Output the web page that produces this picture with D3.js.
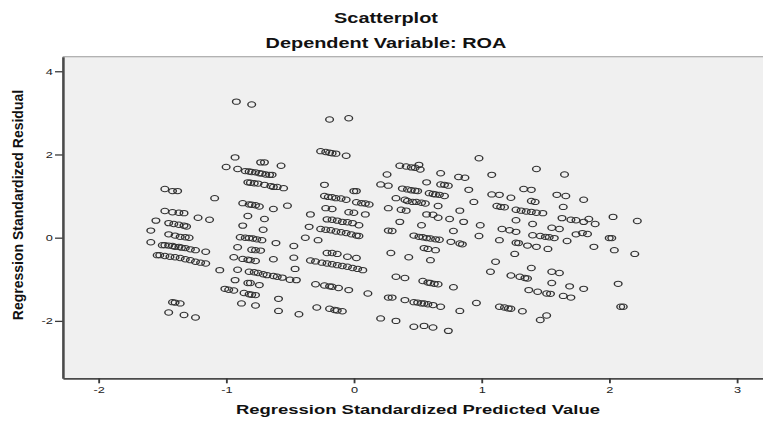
<!DOCTYPE html>
<html>
<head>
<meta charset="utf-8">
<script src="https://cdn.jsdelivr.net/npm/d3@7"></script>
<style>
  body { margin: 0; background: #fff; }
  text { font-family: "Liberation Sans", Arial, sans-serif; }
</style>
</head>
<body>
<svg id="chart"></svg>
<script>
// standardized predicted value / standardized residual, grouped by predicted band
var bandA = [
  [-1.48,1.17],[-1.42,1.12],[-1.38,1.12],[-1.09,0.95],
  [-1.48,0.64],[-1.42,0.61],[-1.37,0.60],[-1.33,0.59],
  [-1.22,0.48],[-1.13,0.43],[-1.55,0.41],
  [-1.45,0.35],[-1.41,0.33],[-1.37,0.31],[-1.33,0.29],[-1.31,0.27],
  [-1.59,0.17],
  [-1.45,0.08],[-1.40,0.05],[-1.36,0.02],[-1.32,0.01],[-1.29,0.00],
  [-1.59,-0.11],
  [-1.50,-0.18],[-1.48,-0.18],[-1.45,-0.19],[-1.42,-0.20],[-1.40,-0.22],[-1.37,-0.22],
  [-1.35,-0.24],[-1.32,-0.25],[-1.28,-0.28],[-1.24,-0.30],[-1.16,-0.34],
  [-1.54,-0.42],[-1.52,-0.42],[-1.48,-0.44],[-1.44,-0.46],[-1.40,-0.47],[-1.36,-0.49],
  [-1.32,-0.52],[-1.28,-0.54],[-1.24,-0.58],[-1.20,-0.60],[-1.16,-0.62],
  [-1.05,-0.78],
  [-1.42,-1.55],[-1.40,-1.56],[-1.36,-1.58],
  [-1.45,-1.80],[-1.33,-1.86],[-1.24,-1.92]
];
var bandB = [
  [-0.92,3.27],[-0.80,3.20],
  [-0.93,1.93],[-1.00,1.70],[-0.91,1.65],[-0.73,1.81],[-0.70,1.81],[-0.57,1.73],
  [-0.85,1.60],[-0.82,1.59],[-0.80,1.58],[-0.77,1.57],[-0.74,1.55],[-0.72,1.54],[-0.69,1.52],[-0.66,1.51],[-0.64,1.51],
  [-0.83,1.33],[-0.81,1.32],[-0.78,1.31],[-0.75,1.30],[-0.70,1.27],[-0.65,1.24],[-0.63,1.22],[-0.60,1.22],[-0.55,1.19],
  [-0.87,0.83],[-0.82,0.80],[-0.80,0.79],[-0.77,0.78],[-0.74,0.75],
  [-0.63,0.69],[-0.52,0.77],
  [-0.83,0.52],[-0.70,0.45],
  [-0.87,0.29],[-0.71,0.19],
  [-0.89,0.01],[-0.85,0.00],[-0.82,-0.01],[-0.79,-0.02],[-0.76,-0.04],[-0.72,-0.06],
  [-0.61,-0.13],[-0.47,-0.20],[-0.91,-0.23],
  [-0.80,-0.29],[-0.77,-0.30],[-0.73,-0.31],
  [-0.94,-0.47],
  [-0.87,-0.51],[-0.83,-0.53],[-0.81,-0.54],[-0.77,-0.56],
  [-0.63,-0.52],[-0.47,-0.48],
  [-0.91,-0.77],[-0.82,-0.82],[-0.78,-0.83],[-0.75,-0.85],[-0.71,-0.88],[-0.68,-0.90],[-0.63,-0.92],[-0.60,-0.94],[-0.56,-0.96],
  [-0.50,-1.01],[-0.45,-1.02],[-0.46,-0.75],
  [-0.93,-1.02],
  [-0.83,-1.09],[-0.81,-1.09],[-0.74,-1.14],
  [-0.94,-1.27],[-0.86,-1.33],[-0.82,-1.36],[-0.80,-1.37],[-0.77,-1.38],
  [-1.01,-1.23],[-0.98,-1.25],
  [-0.88,-1.58],[-0.77,-1.63],
  [-0.59,-1.47],[-0.59,-1.76],[-0.43,-1.84]
];
var bandC = [
  [-0.19,2.84],[-0.04,2.87],
  [-0.26,2.08],[-0.22,2.06],[-0.19,2.04],[-0.17,2.03],[-0.14,2.02],[-0.06,1.97],
  [-0.23,1.27],
  [-0.23,1.00],[-0.20,0.98],[-0.17,0.97],[-0.14,0.95],[-0.10,0.94],[-0.06,0.91],
  [0.00,1.12],[0.02,1.12],
  [0.02,0.85],[0.06,0.83],[0.09,0.82],[0.12,0.80],
  [-0.22,0.71],[-0.17,0.69],
  [-0.04,0.61],[0.00,0.60],[0.09,0.56],[-0.34,0.56],
  [-0.21,0.44],[-0.17,0.43],[-0.13,0.41],[-0.09,0.38],[-0.05,0.37],[-0.01,0.35],[0.04,0.30],
  [-0.35,0.26],
  [-0.26,0.21],[-0.22,0.19],[-0.18,0.18],[-0.14,0.15],[-0.10,0.13],[-0.06,0.11],[-0.02,0.08],[0.02,0.05],[0.04,0.04],
  [-0.38,0.00],[-0.28,-0.06],
  [-0.21,-0.37],[-0.17,-0.37],[-0.13,-0.39],
  [-0.05,-0.46],[0.02,-0.49],
  [-0.34,-0.55],[-0.30,-0.57],[-0.25,-0.60],[-0.21,-0.62],[-0.17,-0.64],[-0.13,-0.66],
  [-0.09,-0.68],[-0.05,-0.70],[-0.01,-0.73],[0.03,-0.75],[0.07,-0.78],
  [-0.30,-1.12],[-0.23,-1.15],[-0.19,-1.17],[-0.17,-1.18],[-0.12,-1.21],[-0.04,-1.26],
  [0.11,-1.34],
  [-0.29,-1.68],[-0.19,-1.71],[-0.15,-1.74],[-0.13,-1.75],[-0.09,-1.77]
];
var bandD = [
  [0.36,1.73],[0.41,1.71],[0.45,1.69],[0.48,1.68],[0.51,1.75],[0.52,1.64],
  [0.26,1.52],
  [0.21,1.28],[0.27,1.25],
  [0.38,1.18],[0.42,1.16],[0.45,1.14],[0.48,1.13],[0.50,1.12],
  [0.33,0.95],[0.40,0.91],[0.42,0.88],[0.46,0.86],[0.49,0.86],[0.53,0.84],[0.56,0.82],
  [0.27,0.71],[0.37,0.67],[0.41,0.65],
  [0.36,0.38],
  [0.27,0.17],[0.30,0.16],
  [0.29,-0.37],[0.43,-0.47],
  [0.33,-0.94],[0.40,-0.97],
  [0.27,-1.44],[0.30,-1.44],[0.40,-1.50],
  [0.21,-1.94],[0.33,-2.00]
];
var bandE = [
  [0.98,1.91],[0.68,1.55],[0.57,1.33],[0.82,1.46],[0.87,1.44],[1.08,1.51],[1.43,1.65],[1.65,1.52],
  [0.68,1.28],[0.71,1.27],[0.74,1.25],
  [0.59,1.07],[0.62,1.05],[0.64,1.04],[0.67,1.03],[0.71,1.00],
  [0.90,1.15],[1.08,1.04],[1.14,1.03],[1.23,0.96],[1.33,1.17],[1.39,1.15],[1.59,1.03],[1.66,1.00],
  [0.66,0.76],[0.94,0.86],[1.39,0.88],[1.42,0.86],[1.64,0.74],
  [1.12,0.76],[1.15,0.74],[1.18,0.73],
  [1.27,0.67],[1.31,0.65],[1.35,0.63],[1.39,0.62],[1.43,0.60],[1.48,0.59],
  [0.83,0.65],[0.57,0.56],[0.62,0.55],[0.66,0.48],[0.75,0.45],[0.86,0.38],[0.99,0.30],[0.53,0.30],
  [0.47,0.05],[0.51,0.02],[0.54,0.01],[0.57,-0.01],[0.60,-0.02],[0.64,-0.04],[0.67,-0.05],
  [0.78,0.16],[0.98,0.04],
  [0.76,-0.10],[0.83,-0.14],[0.85,-0.16],
  [0.55,-0.25],[0.58,-0.27],[0.64,-0.30],
  [0.60,-0.54],
  [0.54,-1.04],[0.58,-1.08],[0.60,-1.09],[0.63,-1.11],[0.66,-1.12],
  [0.78,-1.19],
  [0.47,-1.55],[0.50,-1.56],[0.53,-1.58],[0.55,-1.58],[0.58,-1.60],[0.62,-1.62],[0.68,-1.66],
  [0.83,-1.76],[0.96,-1.57],
  [0.47,-2.14],[0.55,-2.12],[0.62,-2.16],[0.74,-2.24]
];
var bandF = [
  [1.27,0.42],[1.16,0.21],[1.22,0.18],[1.27,0.14],[1.40,0.33],[1.55,0.24],[1.61,0.21],
  [1.63,0.47],[1.70,0.43],[1.74,0.42],
  [1.40,0.06],[1.46,0.04],[1.50,0.02],[1.53,0.01],[1.57,-0.01],
  [1.14,-0.06],
  [1.27,-0.12],[1.29,-0.13],[1.36,-0.19],[1.43,-0.22],[1.52,-0.27],
  [1.67,-0.08],[1.74,0.08],
  [1.26,-0.39],[1.11,-0.58],[1.07,-0.82],[1.39,-0.73],
  [1.23,-0.91],[1.30,-0.94],[1.34,-0.97],[1.36,-0.98],
  [1.55,-0.82],[1.61,-0.85],[1.55,-1.09],[1.69,-1.17],
  [1.37,-1.26],[1.44,-1.30],[1.51,-1.34],[1.54,-1.35],[1.64,-1.40],[1.70,-1.44],
  [1.14,-1.66],[1.18,-1.68],[1.21,-1.70],[1.23,-1.71],[1.32,-1.77],[1.51,-1.87],[1.46,-1.98]
];
var bandG = [
  [1.80,0.91],[1.84,0.45],[1.80,0.38],[1.89,0.33],[2.03,0.50],[2.22,0.40],
  [1.79,0.11],[1.83,0.09],[2.00,-0.01],[2.02,-0.01],[1.88,-0.22],[2.04,-0.30],[2.20,-0.39],
  [1.80,-1.23],[2.07,-1.11],[2.09,-1.66],[2.11,-1.66]
];
var xTicks = [-2, -1, 0, 1, 2, 3];
var yTicks = [-2, 0, 2, 4];

var points = bandA.concat(bandB, bandC, bandD, bandE, bandF, bandG);

// the picture is stretched sideways, so draw in a squeezed frame and scale it out
var SX = 1.42;
var svg = d3.select("#chart")
    .attr("width", 763)
    .attr("height", 421);

var g = svg.append("g")
    .attr("transform", "scale(" + SX + ",1)");

var plotLeft = 62.7 / SX, plotRight = 765 / SX, plotTop = 56.7, plotBottom = 378.3;

var x = d3.scaleLinear().domain([-2.28, 3.22]).range([plotLeft, plotRight]);
var y = d3.scaleLinear().domain([-3.38, 4.35]).range([plotBottom, plotTop]);

g.append("rect")
    .attr("x", plotLeft)
    .attr("y", plotTop)
    .attr("width", plotRight - plotLeft)
    .attr("height", plotBottom - plotTop)
    .attr("fill", "#f0f0f0");

g.append("line")
    .attr("x1", plotLeft).attr("x2", plotRight)
    .attr("y1", plotTop).attr("y2", plotTop)
    .attr("stroke", "#9a9a9a")
    .attr("stroke-width", 1);

var plain = function(d){ return String(d); };

var xAxis = g.append("g")
    .attr("transform", "translate(0," + plotBottom + ")")
    .call(d3.axisBottom(x).tickValues(xTicks).tickFormat(plain)
        .tickSize(5).tickSizeOuter(0).tickPadding(3.5));

var yAxis = g.append("g")
    .attr("transform", "translate(" + plotLeft + ",0)")
    .call(d3.axisLeft(y).tickValues(yTicks).tickFormat(plain)
        .tickSize(5.4).tickSizeOuter(0).tickPadding(1.5));

[xAxis, yAxis].forEach(function(a){
    a.select(".domain").attr("stroke", "#4a4a4a").attr("stroke-width", 1.8);
    a.selectAll(".tick line").attr("stroke", "#3a3a3a").attr("stroke-width", 1.3);
    a.selectAll(".tick text")
        .attr("fill", "#222")
        .style("font-size", "9px")
        .style("font-family", "'Liberation Sans', Arial, sans-serif");
});

g.append("g")
    .selectAll("circle")
    .data(points)
    .enter()
    .append("circle")
    .attr("cx", function(d){ return x(d[0]); })
    .attr("cy", function(d){ return y(d[1]); })
    .attr("r", 2.7)
    .attr("fill", "none")
    .attr("stroke", "#333")
    .attr("stroke-width", 1);

g.append("text")
    .text("Scatterplot")
    .attr("x", 386 / SX)
    .attr("y", 23.3)
    .attr("text-anchor", "middle")
    .style("font-size", "14px")
    .style("font-weight", "bold")
    .attr("fill", "#111");

g.append("text")
    .text("Dependent Variable: ROA")
    .attr("x", 386 / SX)
    .attr("y", 48.5)
    .attr("text-anchor", "middle")
    .style("font-size", "14px")
    .style("font-weight", "bold")
    .attr("fill", "#111");

g.append("text")
    .text("Regression Standardized Predicted Value")
    .attr("x", 418 / SX)
    .attr("y", 414.5)
    .attr("text-anchor", "middle")
    .style("font-size", "13px")
    .style("font-weight", "bold")
    .attr("fill", "#111");

// the side title is not stretched
svg.append("text")
    .text("Regression Standardized Residual")
    .attr("transform", "translate(23,205) rotate(-90)")
    .attr("text-anchor", "middle")
    .style("font-size", "14px")
    .style("font-weight", "bold")
    .attr("fill", "#111");
</script>
</body>
</html>
